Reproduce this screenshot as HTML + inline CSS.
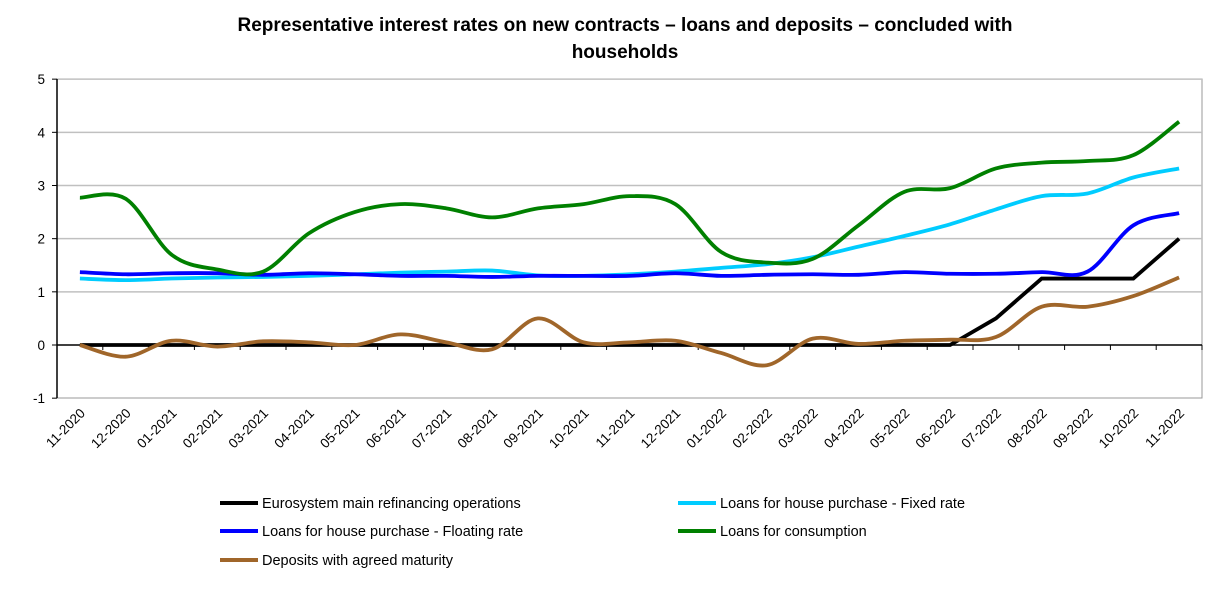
<!DOCTYPE html>
<html><head><meta charset="utf-8"><style>
body{margin:0;background:#fff;font-family:"Liberation Sans",Arial,sans-serif}
</style></head><body>
<svg id="s" width="1221" height="598" xmlns="http://www.w3.org/2000/svg" font-family="Liberation Sans, Arial, sans-serif">
<text x="625" y="31" text-anchor="middle" font-size="19" font-weight="bold">Representative interest rates on new contracts – loans and deposits – concluded with</text>
<text x="625" y="58" text-anchor="middle" font-size="19" font-weight="bold">households</text>
<rect x="57" y="79" width="1145" height="319" fill="none" stroke="#999" stroke-width="1"/>
<g id="grid"></g>
<g id="series"></g>
<g id="lab"></g>
<g font-size="14.5">
<line x1="220" y1="503" x2="258" y2="503" stroke="#000" stroke-width="4"/><text x="262" y="508">Eurosystem main refinancing operations</text>
<line x1="678" y1="503" x2="716" y2="503" stroke="#00ccff" stroke-width="4"/><text x="720" y="508">Loans for house purchase - Fixed rate</text>
<line x1="220" y1="531" x2="258" y2="531" stroke="#0000ff" stroke-width="4"/><text x="262" y="536">Loans for house purchase - Floating rate</text>
<line x1="678" y1="531" x2="716" y2="531" stroke="#008000" stroke-width="4"/><text x="720" y="536">Loans for consumption</text>
<line x1="220" y1="560" x2="258" y2="560" stroke="#a0662a" stroke-width="4"/><text x="262" y="565">Deposits with agreed maturity</text>
</g>
</svg>
<script>
var NS="http://www.w3.org/2000/svg";
function el(p,t,a,txt){var e=document.createElementNS(NS,t);for(var k in a)e.setAttribute(k,a[k]);if(txt!==undefined)e.textContent=txt;document.getElementById(p).appendChild(e);return e;}
var L=57,R=1202,T=79,B=398,w=(R-L)/25;
function Y(v){return 345-v*53.17;}
function X(i){return L+(i+0.5)*w;}
for(var v=-1;v<=5;v++){
 if(v!=0&&v!=-1)el("grid","line",{x1:L,x2:R,y1:Y(v),y2:Y(v),stroke:"#c0c0c0","stroke-width":1.5});
 el("grid","line",{x1:L-5,x2:L,y1:Y(v),y2:Y(v),stroke:"#000"});
 el("grid","text",{x:L-12,y:Y(v)+5,"text-anchor":"end","font-size":13.5},String(v));
}
el("grid","line",{x1:L,x2:L,y1:T,y2:B,stroke:"#000","stroke-width":1.5});
el("grid","line",{x1:L,x2:R,y1:345,y2:345,stroke:"#000","stroke-width":1.5});
for(var k=0;k<=25;k++)el("grid","line",{x1:L+k*w,x2:L+k*w,y1:345,y2:350,stroke:"#000"});
var labs=[];for(var i=0;i<25;i++){var m=(10+i)%12+1,y=2020+Math.floor((10+i)/12);labs.push((m<10?"0":"")+m+"-"+y);}
labs.forEach(function(s,i){var x=X(i)+6,y=414;el("lab","text",{x:x,y:y,"text-anchor":"end","font-size":13.5,transform:"rotate(-45 "+x+" "+y+")"},s);});
function smooth(d){var p=d.map(function(v,i){return [X(i),Y(v)];});var s="M"+p[0];
 for(var i=0;i<p.length-1;i++){var p0=p[i-1]||p[i],p1=p[i],p2=p[i+1],p3=p[i+2]||p2;
 var c1=[p1[0]+(p2[0]-p0[0])/6,p1[1]+(p2[1]-p0[1])/6],c2=[p2[0]-(p3[0]-p1[0])/6,p2[1]-(p3[1]-p1[1])/6];
 s+=" C"+c1+" "+c2+" "+p2;}return s;}
function poly(d){return "M"+d.map(function(v,i){return X(i)+","+Y(v);}).join(" L");}
var black=[0,0,0,0,0,0,0,0,0,0,0,0,0,0,0,0,0,0,0,0,0.5,1.25,1.25,1.25,2.0];
var lb=[1.25,1.22,1.25,1.27,1.28,1.3,1.33,1.36,1.38,1.4,1.31,1.3,1.33,1.38,1.45,1.52,1.65,1.85,2.05,2.27,2.55,2.8,2.85,3.15,3.32];
var bl=[1.37,1.33,1.35,1.35,1.32,1.35,1.33,1.3,1.3,1.28,1.3,1.3,1.3,1.35,1.3,1.32,1.33,1.32,1.37,1.34,1.34,1.37,1.38,2.25,2.48];
var gr=[2.77,2.75,1.7,1.42,1.38,2.1,2.5,2.65,2.57,2.4,2.57,2.65,2.8,2.65,1.75,1.55,1.62,2.25,2.88,2.95,3.32,3.43,3.46,3.57,4.2];
var br=[0,-0.22,0.08,-0.03,0.07,0.05,0,0.2,0.05,-0.08,0.5,0.05,0.05,0.08,-0.15,-0.38,0.12,0.02,0.08,0.1,0.15,0.72,0.72,0.92,1.27];
el("series","path",{d:poly(black),fill:"none",stroke:"#000","stroke-width":3.8});
el("series","path",{d:smooth(lb),fill:"none",stroke:"#00ccff","stroke-width":3.8});
el("series","path",{d:smooth(bl),fill:"none",stroke:"#0000ff","stroke-width":3.8});
el("series","path",{d:smooth(gr),fill:"none",stroke:"#008000","stroke-width":3.8});
el("series","path",{d:smooth(br),fill:"none",stroke:"#a0662a","stroke-width":3.8});
</script>
</body></html>
